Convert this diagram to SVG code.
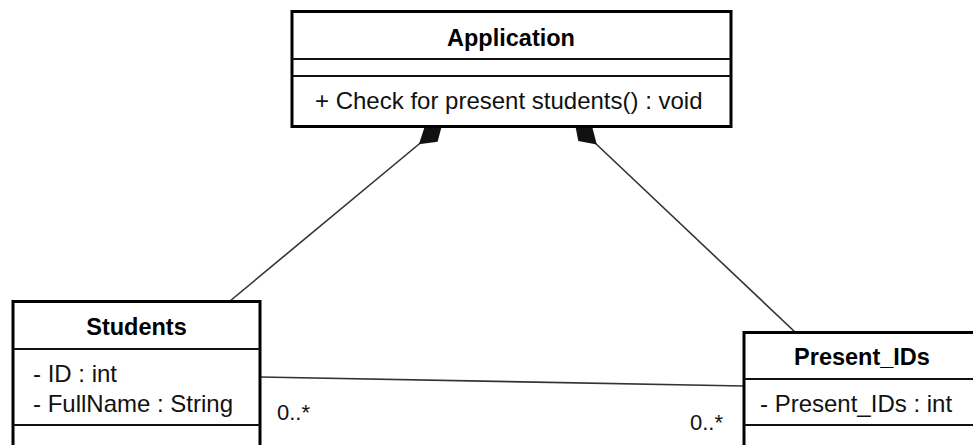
<svg xmlns="http://www.w3.org/2000/svg" width="973" height="445" viewBox="0 0 973 445">
  <defs>
    <!-- filled composition diamond, tip at the line end -->
    <marker id="composition" markerUnits="userSpaceOnUse" viewBox="-36 -12 38 24" refX="0" refY="0" markerWidth="38" markerHeight="24" orient="auto">
      <path d="M0,0 L-14,-10 L-30,0 L-14,10 Z" fill="#111"/>
    </marker>
    <style>
      .box { fill: #fff; stroke: #000; stroke-width: 3; }
      .sep { stroke: #111; stroke-width: 2; }
      .edge { stroke: #333; stroke-width: 1.6; fill: none; }
      .title { font-family: "Liberation Sans", Arial, sans-serif; font-weight: bold; font-size: 23.5px; fill: #000; text-anchor: middle; }
      .member { font-family: "Liberation Sans", Arial, sans-serif; font-size: 24px; fill: #111; }
      .mult { font-family: "Liberation Sans", Arial, sans-serif; font-size: 22px; fill: #111; }
    </style>
  </defs>
  <rect width="973" height="445" fill="#fff"/>

  <!-- associations -->
  <g id="connectors">
    <line class="edge" x1="230" y1="301" x2="442" y2="125" marker-end="url(#composition)"/>
    <line class="edge" x1="795" y1="332" x2="575" y2="124" marker-end="url(#composition)"/>
    <line class="edge" x1="260" y1="377" x2="744" y2="386"/>
    <text class="mult" x="277" y="420">0..*</text>
    <text class="mult" x="690" y="430">0..*</text>
  </g>

  <!-- Application class -->
  <g id="application">
    <rect class="box" x="292" y="11.5" width="439" height="115"/>
    <line class="sep" x1="292" y1="59" x2="731" y2="59"/>
    <line class="sep" x1="292" y1="76" x2="731" y2="76"/>
    <text class="title" x="511" y="46">Application</text>
    <text class="member" x="315" y="109">+ Check for present students() : void</text>
  </g>

  <!-- Students class -->
  <g id="students">
    <rect class="box" x="13" y="301.5" width="247" height="160"/>
    <line class="sep" x1="13" y1="349" x2="260" y2="349"/>
    <line class="sep" x1="13" y1="425" x2="260" y2="425"/>
    <text class="title" x="136.5" y="335">Students</text>
    <text class="member" x="33" y="382">- ID : int</text>
    <text class="member" x="33" y="412">- FullName : String</text>
  </g>

  <!-- Present_IDs class -->
  <g id="present-ids">
    <rect class="box" x="744" y="332.5" width="240" height="130"/>
    <line class="sep" x1="744" y1="379" x2="984" y2="379"/>
    <line class="sep" x1="744" y1="425" x2="984" y2="425"/>
    <text class="title" x="862" y="365">Present_IDs</text>
    <text class="member" x="760" y="412">- Present_IDs : int</text>
  </g>
</svg>
